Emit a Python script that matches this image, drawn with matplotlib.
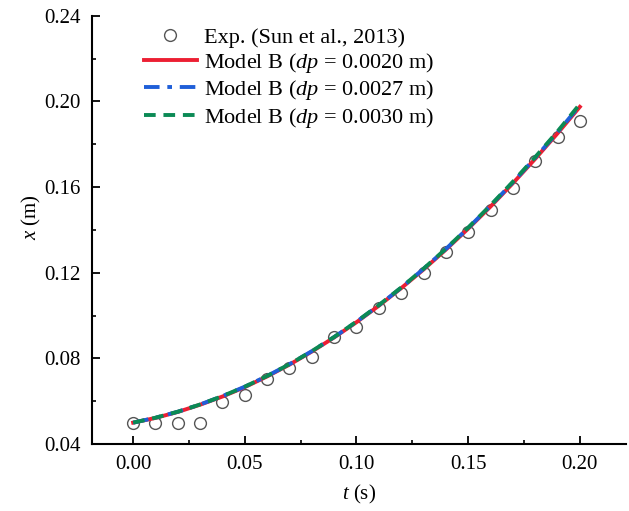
import numpy as np
import matplotlib
matplotlib.use("Agg")
import matplotlib.pyplot as plt
from matplotlib.ticker import MultipleLocator, FormatStrFormatter

plt.rcParams['font.family'] = ['Liberation Serif', 'DejaVu Serif']
plt.rcParams['mathtext.fontset'] = 'custom'
plt.rcParams['mathtext.rm'] = 'Liberation Serif'
plt.rcParams['mathtext.it'] = 'Liberation Serif:italic'

# experimental data (Sun et al., 2013)
t_exp = [0.00, 0.01, 0.02, 0.03, 0.04, 0.05, 0.06, 0.07, 0.08, 0.09, 0.10,
         0.11, 0.12, 0.13, 0.14, 0.15, 0.16, 0.17, 0.18, 0.19, 0.20]
x_exp = [0.0498, 0.0500, 0.0500, 0.0500, 0.0598, 0.0629, 0.0705, 0.0755, 0.0807, 0.0900, 0.0947,
         0.1036, 0.1106, 0.1200, 0.1297, 0.1390, 0.1495, 0.1598, 0.1722, 0.1832, 0.1910]

# model B curves
t_mod = [0.00, 0.01, 0.02, 0.03, 0.04, 0.05, 0.06, 0.07, 0.08, 0.09, 0.10,
         0.11, 0.12, 0.13, 0.14, 0.15, 0.16, 0.17, 0.18, 0.19, 0.20]
x_0020 = [0.0500, 0.0522, 0.0550, 0.0584, 0.0622, 0.0666, 0.0716, 0.0771, 0.0832, 0.0898, 0.0969,
          0.1046, 0.1128, 0.1215, 0.1308, 0.1406, 0.1509, 0.1618, 0.1732, 0.1851, 0.1975]
x_0027 = [0.0500, 0.0523, 0.0551, 0.0585, 0.0624, 0.0668, 0.0718, 0.0773, 0.0834, 0.0900, 0.0971,
          0.1048, 0.1130, 0.1218, 0.1311, 0.1409, 0.1513, 0.1622, 0.1737, 0.1856, 0.1982]
x_0030 = [0.0500, 0.0523, 0.0551, 0.0585, 0.0624, 0.0668, 0.0718, 0.0773, 0.0834, 0.0900, 0.0972,
          0.1049, 0.1131, 0.1219, 0.1312, 0.1411, 0.1515, 0.1625, 0.1740, 0.1860, 0.1988]

labels = ['Exp. (Sun et al., 2013)',
          'Model B ($dp$ = 0.0020 m)',
          'Model B ($dp$ = 0.0027 m)',
          'Model B ($dp$ = 0.0030 m)']

fig = plt.figure(figsize=(6.29, 5.11), dpi=100)
ax = fig.add_axes([0.146, 0.131, 0.849, 0.838])

ax.plot(t_exp, x_exp, 'o', mfc='none', mec='#555555', ms=8.5, mew=1.0,
        label=labels[0], zorder=2)
ax.plot(t_mod, x_0020, '-', color='#ec1f33', lw=2.8, label=labels[1], zorder=3)
ax.plot(t_mod, x_0027, color='#1f5fd8', lw=2.8, dashes=(4, 2, 1.2, 2),
        label=labels[2], zorder=4)
ax.plot(t_mod, x_0030, color='#0b8a55', lw=2.8, dashes=(3, 2),
        label=labels[3], zorder=5)

ax.set_xlim(-0.0185, 0.2206)
ax.set_ylim(0.04, 0.24)
ax.xaxis.set_major_locator(MultipleLocator(0.05))
ax.xaxis.set_minor_locator(MultipleLocator(0.025))
ax.yaxis.set_major_locator(MultipleLocator(0.04))
ax.yaxis.set_minor_locator(MultipleLocator(0.02))
ax.xaxis.set_major_formatter(FormatStrFormatter('%.2f'))
ax.yaxis.set_major_formatter(FormatStrFormatter('%.2f'))

for s in ['top', 'right']:
    ax.spines[s].set_visible(False)
for s in ['left', 'bottom']:
    ax.spines[s].set_linewidth(1.5)

ax.tick_params(which='major', direction='in', length=6, width=1.3, labelsize=15, pad=8)
ax.tick_params(which='minor', direction='in', length=3, width=1.2)

ax.set_xlabel('$t$ (s)', fontsize=15)
ax.set_ylabel('$x$ (m)', fontsize=15)
ax.xaxis.set_label_coords(0.5, -0.09)
ax.yaxis.set_label_coords(-0.092, 0.53)

leg = ax.legend(loc='upper left', bbox_to_anchor=(0.076, 1.0), frameon=False,
                fontsize=16, handlelength=2.4, handletextpad=0.3,
                labelspacing=0.15, borderaxespad=0.1)

fig.savefig('out.png', dpi=100)
